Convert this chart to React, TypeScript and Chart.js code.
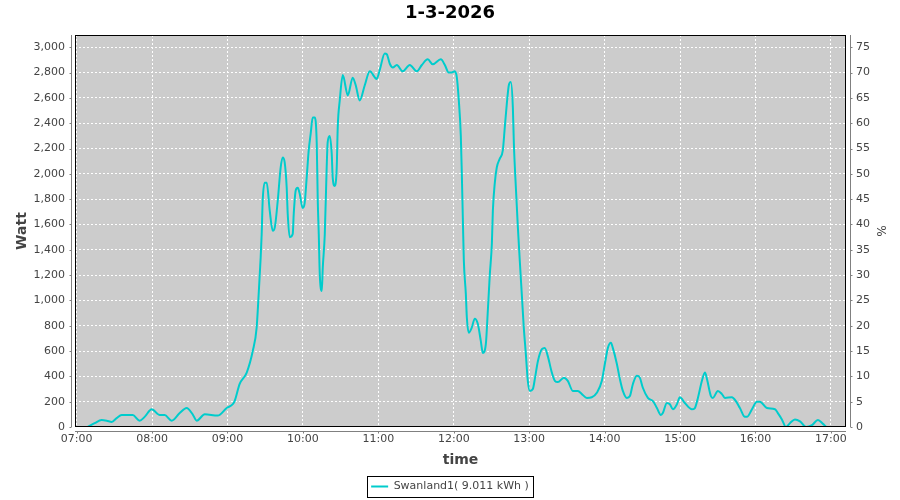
import React, { useEffect, useRef } from "react";
import { Chart, registerables } from "chart.js";

Chart.register(...registerables);

const chartTitle = "1-3-2026";
const seriesLabel = "Swanland1( 9.011 kWh )";
const yTitle = "Watt";
const y2Title = "%";
const xTitle = "time";

// minutes after 07:00
const minutes = [
  8.8, 14.3, 19.9, 23.9, 27.9, 31.8, 35.8, 44.6, 50.1, 54.1, 59.7, 66.1, 70, 75.6, 82, 87.5, 92.3, 95.5,
  101.9, 112.2, 119.4, 124.2, 125.7, 129.7, 135.3, 140.1, 143.2, 144.8, 146.4, 147.2, 148, 149.6, 151.2,
  153.6, 156, 157.6, 160, 162.3, 163.9, 165.5, 167.1, 167.9, 169.5, 171.9, 172.7, 174.3, 175.9, 177.5,
  179.8, 181.4, 183, 184.6, 186.2, 187.8, 189.4, 191, 191.8, 192.6, 193.4, 195, 195.8, 197.4, 198.9,
  199.7, 201.3, 202.9, 203.7, 205.3, 206.9, 207.7, 209.3, 211.7, 215.7, 219.6, 222, 225.2, 229.2, 233.2,
  238.7, 241.1, 245.1, 246.7, 249.1, 251.5, 254.7, 259.4, 265, 270.6, 274.6, 279.3, 283.3, 289.7, 292.9,
  296, 298.4, 300.8, 302.4, 304, 305.6, 306.4, 307.2, 308, 309.6, 310.4, 311.9, 314.3, 316.7, 319.1,
  321.5, 323.1, 325.5, 327.1, 328.7, 330.3, 331.1, 332.6, 334.2, 336.6, 339, 340.6, 342.2, 343.8, 345.4,
  347, 347.8, 349.4, 351, 352.5, 354.1, 355.7, 357.3, 358.9, 360.5, 362.9, 364.5, 366.9, 370.1, 372.4,
  374.8, 378, 380.4, 382.8, 387.6, 390.7, 394.7, 398.7, 401.9, 405.9, 409.8, 413.8, 417.8, 420.2, 422.6,
  425, 426.5, 429.7, 432.1, 434.5, 437.7, 440.1, 442.5, 445.6, 448, 450.4, 454.4, 458.4, 461.6, 464.7,
  466.3, 469.5, 471.9, 474.3, 477.5, 479.9, 483.8, 489.4, 491.8, 494.2, 497.4, 499.8, 501.4, 504.5, 506.1,
  510.1, 513.3, 515.7, 521.2, 524.4, 527.6, 531.6, 533.2, 537.2, 541.1, 543.5, 549.1, 555.5, 557.8, 561,
  564.2, 567.4, 571.4, 575.4, 580.2, 584.9, 589.7, 593.7, 596.9, 600.8,
];

const watts = [
  0, 30, 55, 50, 40, 70, 95, 95, 50, 80, 140, 95, 95, 50, 110, 150, 100, 50,
  100, 90, 150, 180, 205, 340, 430, 600, 785, 1050, 1340, 1525, 1790, 1930, 1930,
  1710, 1550, 1575, 1790, 2050, 2130, 2090, 1890, 1685, 1500, 1525, 1685, 1870, 1890, 1840,
  1730, 1770, 1970, 2185, 2320, 2445, 2445, 2240, 1790, 1525, 1210, 1075, 1260, 1525, 2050,
  2250, 2300, 2160, 1970, 1905, 2050, 2370, 2580, 2780, 2620, 2760, 2700, 2580, 2700, 2810,
  2750, 2820, 2950, 2945, 2870, 2840, 2860, 2810, 2860, 2810, 2860, 2905, 2865, 2905, 2860,
  2800, 2800, 2810, 2765, 2580, 2300, 2000, 1655, 1315, 1050, 865, 745, 785, 855, 815,
  680, 585, 655, 920, 1210, 1450, 1710, 1925, 2050, 2120, 2185, 2370, 2555, 2700, 2725,
  2525, 2240, 1890, 1575, 1315, 1050, 785, 580, 365, 285, 300, 380, 520, 615, 625,
  560, 430, 365, 355, 390, 365, 285, 285, 260, 230, 235, 270, 365, 500, 625,
  665, 625, 500, 380, 285, 230, 245, 340, 405, 390, 310, 230, 205, 150, 95,
  110, 190, 180, 140, 180, 235, 190, 140, 150, 230, 365, 430, 380, 245, 230,
  285, 260, 230, 235, 205, 150, 80, 80, 140, 200, 200, 150, 140, 110, 60,
  0, 30, 60, 45, 0, 15, 55, 25, 0, 0,
];

const xTickMinutes = [0, 60, 120, 180, 240, 300, 360, 420, 480, 540, 600];
const wattTicks = [0, 200, 400, 600, 800, 1000, 1200, 1400, 1600, 1800, 2000, 2200, 2400, 2600, 2800, 3000];
const percentTicks = [0, 5, 10, 15, 20, 25, 30, 35, 40, 45, 50, 55, 60, 65, 70, 75];

const X_MIN = -1.3;
const X_MAX = 612;
const Y_MAX = 3097;
const WATT_PER_PERCENT = 40;

const LINE_COLOR = "#00CCCC";
const TEXT_COLOR = "#444444";
const FONT = "'DejaVu Sans', sans-serif";

const fmtTime = (m: number) => {
  const h = 7 + Math.round(m / 60);
  return `${String(h).padStart(2, "0")}:00`;
};

const framePlugin = {
  id: "framePlugin",
  beforeDraw(chart: any) {
    const { ctx, chartArea } = chart;
    ctx.save();
    ctx.fillStyle = "#ffffff";
    ctx.fillRect(0, 0, chart.width, chart.height);
    ctx.fillStyle = "#CCCCCC";
    ctx.fillRect(chartArea.left, chartArea.top, chartArea.right - chartArea.left, chartArea.bottom - chartArea.top);
    ctx.restore();
  },
  afterDraw(chart: any) {
    const { ctx, chartArea } = chart;
    const { left, right, top, bottom } = chartArea;
    ctx.save();
    ctx.strokeStyle = "#000000";
    ctx.lineWidth = 1;
    ctx.strokeRect(left + 0.5, top + 0.5, right - left - 1, bottom - top - 1);
    // offset axis lines
    ctx.strokeStyle = "#808080";
    ctx.beginPath();
    const lx = Math.round(left - 4) + 0.5;
    ctx.moveTo(lx, top);
    ctx.lineTo(lx, bottom);
    const yS = chart.scales.y;
    wattTicks.forEach((v) => {
      const py = Math.round(yS.getPixelForValue(v)) + 0.5;
      ctx.moveTo(lx - 2, py);
      ctx.lineTo(lx, py);
    });
    const rx = Math.round(right + 4) + 0.5;
    ctx.moveTo(rx, top);
    ctx.lineTo(rx, bottom);
    const y1S = chart.scales.y1;
    percentTicks.forEach((v) => {
      const py = Math.round(y1S.getPixelForValue(v)) + 0.5;
      ctx.moveTo(rx, py);
      ctx.lineTo(rx + 2, py);
    });
    const by = Math.round(bottom + 4) + 0.5;
    ctx.moveTo(left, by);
    ctx.lineTo(right, by);
    const xS = chart.scales.x;
    xTickMinutes.forEach((v) => {
      const px = Math.round(xS.getPixelForValue(v)) + 0.5;
      ctx.moveTo(px, by);
      ctx.lineTo(px, by + 2);
    });
    ctx.stroke();
    // legend border
    const lg = chart.legend;
    if (lg && lg.legendHitBoxes && lg.legendHitBoxes.length) {
      const hb = lg.legendHitBoxes[0];
      ctx.strokeStyle = "#000000";
      ctx.strokeRect(Math.round(hb.left - 4) + 0.5, Math.round(hb.top - 5) + 0.5, Math.round(hb.width + 8), 21);
    }
    ctx.restore();
  },
};

export default function App() {
  const canvasRef = useRef<HTMLCanvasElement | null>(null);

  useEffect(() => {
    if (!canvasRef.current) return;
    const chart = new Chart(canvasRef.current, {
      type: "line",
      data: {
        datasets: [
          {
            label: seriesLabel,
            data: minutes.map((m, i) => ({ x: m, y: watts[i] })),
            borderColor: LINE_COLOR,
            backgroundColor: LINE_COLOR,
            borderWidth: 2,
            pointRadius: 0,
            cubicInterpolationMode: "monotone",
            fill: false,
            yAxisID: "y",
          },
        ],
      },
      options: {
        animation: false,
        responsive: false,
        maintainAspectRatio: false,
        layout: { padding: { left: 0, right: 0, top: 0, bottom: 0 } },
        plugins: {
          title: {
            display: true,
            text: chartTitle,
            color: "#000000",
            font: { family: FONT, size: 18, weight: "bold" },
            padding: { top: 3, bottom: 10.4 },
          },
          legend: {
            display: true,
            position: "bottom",
            maxHeight: 28,
            labels: {
              color: TEXT_COLOR,
              font: { family: FONT, size: 11 },
              boxWidth: 17,
              boxHeight: 2,
              padding: 9,
              generateLabels: (c: any) =>
                c.data.datasets.map((ds: any, i: number) => ({
                  text: ds.label,
                  fillStyle: LINE_COLOR,
                  strokeStyle: LINE_COLOR,
                  lineWidth: 0,
                  hidden: false,
                  datasetIndex: i,
                  fontColor: TEXT_COLOR,
                })),
            },
          },
          tooltip: { enabled: false },
        },
        scales: {
          x: {
            type: "linear",
            min: X_MIN,
            max: X_MAX,
            afterBuildTicks: (s: any) => {
              s.ticks = xTickMinutes.map((v) => ({ value: v }));
            },
            afterFit: (s: any) => {
              s.height = 45;
            },
            ticks: {
              color: TEXT_COLOR,
              font: { family: FONT, size: 11 },
              padding: 6,
              maxRotation: 0,
              autoSkip: false,
              callback: (v: any) => fmtTime(Number(v)),
            },
            grid: { color: "#ffffff", lineWidth: 1, drawTicks: false },
            border: { display: false, dash: [2, 2] },
            title: {
              display: true,
              text: xTitle,
              color: TEXT_COLOR,
              font: { family: FONT, size: 14, weight: "bold" },
              padding: { top: 0, bottom: 3.6 },
            },
          },
          y: {
            type: "linear",
            position: "left",
            min: 0,
            max: Y_MAX,
            afterBuildTicks: (s: any) => {
              s.ticks = wattTicks.map((v) => ({ value: v }));
            },
            afterFit: (s: any) => {
              s.width = 75;
            },
            ticks: {
              color: TEXT_COLOR,
              font: { family: FONT, size: 11 },
              padding: 10,
              autoSkip: false,
              callback: (v: any) => Number(v).toLocaleString("en-US"),
            },
            grid: { color: "#ffffff", lineWidth: 1, drawTicks: false },
            border: { display: false, dash: [2, 2] },
            title: {
              display: true,
              text: yTitle,
              color: TEXT_COLOR,
              font: { family: FONT, size: 14, weight: "bold" },
              padding: { top: 13.6, bottom: 0 },
            },
          },
          y1: {
            type: "linear",
            position: "right",
            min: 0,
            max: Y_MAX / WATT_PER_PERCENT,
            afterBuildTicks: (s: any) => {
              s.ticks = percentTicks.map((v) => ({ value: v }));
            },
            afterFit: (s: any) => {
              s.width = 54;
            },
            ticks: {
              color: TEXT_COLOR,
              font: { family: FONT, size: 11 },
              padding: 10,
              autoSkip: false,
              callback: (v: any) => String(v),
            },
            grid: { display: false, drawTicks: false },
            border: { display: false },
            title: {
              display: true,
              text: y2Title,
              color: TEXT_COLOR,
              font: { family: FONT, size: 12 },
              padding: { top: 12.8, bottom: 0 },
            },
          },
        },
      },
      plugins: [framePlugin],
    } as any);
    return () => chart.destroy();
  }, []);

  return (
    <div style={{ position: "absolute", left: 0, top: 0, width: 900, height: 500, background: "#fff" }}>
      <canvas ref={canvasRef} width={900} height={500} style={{ display: "block", width: 900, height: 500 }} />
    </div>
  );
}
